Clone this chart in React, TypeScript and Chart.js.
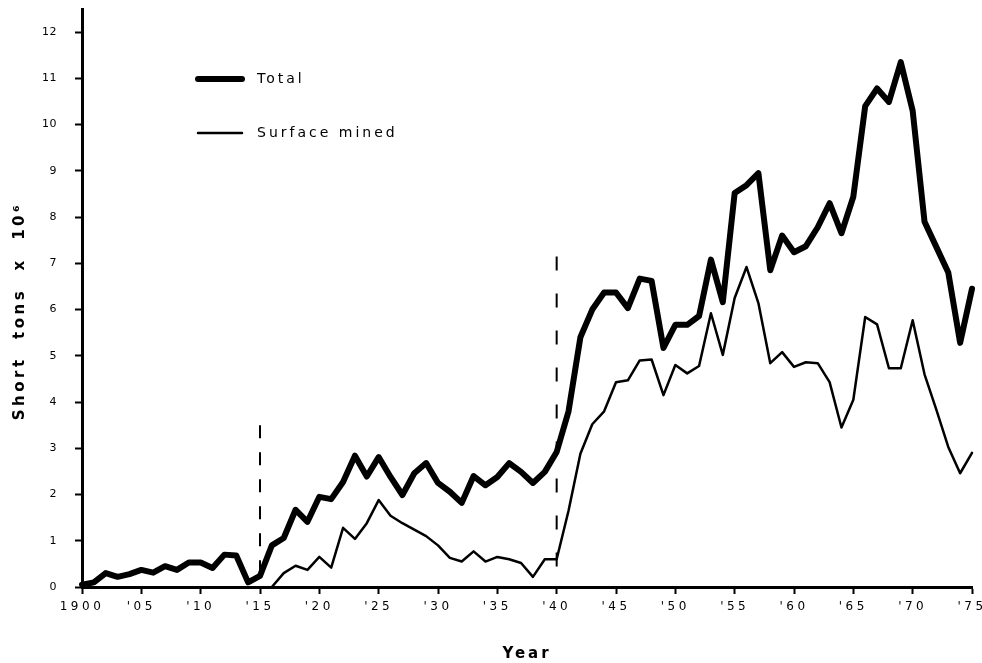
import React, { useEffect, useRef } from 'react';
import { Chart, registerables } from 'chart.js';

Chart.register(...registerables);

// ---------- data ----------
const years = [
  1900, 1901, 1902, 1903, 1904, 1905, 1906, 1907, 1908, 1909,
  1910, 1911, 1912, 1913, 1914, 1915, 1916, 1917, 1918, 1919,
  1920, 1921, 1922, 1923, 1924, 1925, 1926, 1927, 1928, 1929,
  1930, 1931, 1932, 1933, 1934, 1935, 1936, 1937, 1938, 1939,
  1940, 1941, 1942, 1943, 1944, 1945, 1946, 1947, 1948, 1949,
  1950, 1951, 1952, 1953, 1954, 1955, 1956, 1957, 1958, 1959,
  1960, 1961, 1962, 1963, 1964, 1965, 1966, 1967, 1968, 1969,
  1970, 1971, 1972, 1973, 1974, 1975,
];

const totalTons = [
  0.05, 0.1, 0.3, 0.22, 0.28, 0.37, 0.31, 0.45, 0.37, 0.53,
  0.53, 0.41, 0.7, 0.68, 0.1, 0.24, 0.9, 1.06, 1.67, 1.41,
  1.95, 1.9, 2.27, 2.84, 2.39, 2.81, 2.38, 1.99, 2.46, 2.68,
  2.25, 2.06, 1.82, 2.4, 2.2, 2.38, 2.68, 2.49, 2.25, 2.49,
  2.92, 3.8, 5.4, 6.0, 6.37, 6.37, 6.03, 6.67, 6.62, 5.17,
  5.67, 5.67, 5.86, 7.08, 6.16, 8.52, 8.69, 8.95, 6.85, 7.6,
  7.24, 7.37, 7.78, 8.3, 7.65, 8.44, 10.4, 10.78, 10.49, 11.35,
  10.3, 7.9, 7.35, 6.8, 5.28, 6.45,
];

const surfaceMinedTons = [
  null, null, null, null, null, null, null, null, null, null,
  null, null, null, null, null, null, 0.0, 0.3, 0.46, 0.37,
  0.65, 0.42, 1.28, 1.04, 1.38, 1.88, 1.54, 1.38, 1.24, 1.1,
  0.9, 0.63, 0.55, 0.77, 0.55, 0.65, 0.6, 0.52, 0.22, 0.6,
  0.6, 1.65, 2.88, 3.52, 3.8, 4.43, 4.47, 4.9, 4.92, 4.15,
  4.8, 4.62, 4.78, 5.92, 5.02, 6.25, 6.92, 6.14, 4.84, 5.08,
  4.76, 4.86, 4.84, 4.43, 3.45, 4.05, 5.84, 5.68, 4.73, 4.73,
  5.77, 4.6, 3.83, 3.03, 2.46, 2.9,
];

const seriesLabels = ['Total', 'Surface mined'];

const markerYears = [1915, 1940];
const markerTops = [3.5, 7.15];

const xTickValues = [1900, 1905, 1910, 1915, 1920, 1925, 1930, 1935, 1940, 1945, 1950, 1955, 1960, 1965, 1970, 1975];
const xTickLabels = ['1900', "'05", "'10", "'15", "'20", "'25", "'30", "'35", "'40", "'45", "'50", "'55", "'60", "'65", "'70", "'75"];

const yTitle = 'Short  tons  x  10⁶\u00a0\u00a0\u00a0';
const xTitle = 'Year';

// ---------- plugins ----------
const spacingPlugin = {
  id: 'letterSpacingPlugin',
  afterUpdate(chart: any) {
    const wrap = (scale: any, method: string, spacing: string) => {
      if (!scale) return;
      const key = '__wrapped_' + method;
      if (scale[key]) return;
      const orig = scale[method];
      scale[key] = true;
      scale[method] = function (...args: any[]) {
        const ctx = this.ctx;
        const prev = ctx.letterSpacing;
        ctx.letterSpacing = spacing;
        orig.apply(this, args);
        ctx.letterSpacing = prev || '0px';
      };
    };
    wrap(chart.scales.x, 'drawLabels', '3.5px');
    wrap(chart.scales.x, 'drawTitle', '3px');
    wrap(chart.scales.y, 'drawLabels', '0.5px');
    wrap(chart.scales.y, 'drawTitle', '3.5px');
  },
};

const legendPlugin = {
  id: 'customLegend',
  afterDraw(chart: any) {
    const { ctx, chartArea } = chart;
    const items = [
      { label: seriesLabels[0], width: 6 },
      { label: seriesLabels[1], width: 2.5 },
    ];
    ctx.save();
    items.forEach((it, i) => {
      const y = chartArea.top + 70 + i * 54;
      ctx.beginPath();
      ctx.strokeStyle = '#000';
      ctx.lineWidth = it.width;
      ctx.lineCap = 'round';
      ctx.moveTo(chartArea.left + 116, y);
      ctx.lineTo(chartArea.left + 160, y);
      ctx.stroke();
      ctx.fillStyle = '#000';
      ctx.font = '14px "DejaVu Sans"';
      ctx.textBaseline = 'middle';
      ctx.textAlign = 'left';
      ctx.letterSpacing = '3px';
      ctx.fillText(it.label, chartArea.left + 175, y);
    });
    ctx.restore();
  },
};

export default function App() {
  const canvasRef = useRef<HTMLCanvasElement | null>(null);

  useEffect(() => {
    if (!canvasRef.current) return;

    const markerSets = markerYears.map((yr, i) => ({
      label: 'marker' + i,
      data: [
        { x: yr, y: markerTops[i] },
        { x: yr, y: 0 },
      ],
      borderColor: '#000',
      borderWidth: 2,
      borderDash: i === 0 ? [13, 14] : [14, 23],
      pointRadius: 0,
      fill: false,
      clip: false,
    }));

    const chart = new Chart(canvasRef.current, {
      type: 'line',
      data: {
        datasets: [
          ...markerSets,
          {
            label: seriesLabels[1],
            data: years.map((yr, i) => ({ x: yr, y: surfaceMinedTons[i] })),
            borderColor: '#000',
            borderWidth: 2.5,
            pointRadius: 0,
            tension: 0,
            spanGaps: false,
            borderJoinStyle: 'round',
            borderCapStyle: 'round',
            clip: false,
          },
          {
            label: seriesLabels[0],
            data: years.map((yr, i) => ({ x: yr, y: totalTons[i] })),
            borderColor: '#000',
            borderWidth: 6,
            pointRadius: 0,
            tension: 0,
            borderJoinStyle: 'round',
            borderCapStyle: 'round',
            clip: false,
          },
        ] as any,
      },
      options: {
        animation: false,
        responsive: true,
        maintainAspectRatio: false,
        layout: { padding: { top: 9, right: 10, left: 0, bottom: 0 } },
        plugins: {
          legend: { display: false },
          tooltip: { enabled: false },
        },
        scales: {
          x: {
            type: 'linear',
            min: 1900,
            max: 1975,
            afterBuildTicks: (s: any) => {
              s.ticks = xTickValues.map((v) => ({ value: v }));
            },
            afterFit: (s: any) => {
              s.height = 76;
              s.paddingLeft = 0;
              s.paddingRight = 0;
            },
            ticks: {
              autoSkip: false,
              maxRotation: 0,
              minRotation: 0,
              padding: 6,
              color: '#000',
              font: { family: 'DejaVu Sans', size: 12 },
              callback: (v: any) => {
                const i = xTickValues.indexOf(Number(v));
                return i >= 0 ? xTickLabels[i] : '';
              },
            },
            grid: {
              drawOnChartArea: false,
              drawTicks: true,
              tickLength: 7,
              tickWidth: 2,
              tickColor: '#000',
            },
            border: { display: true, width: 3, color: '#000' },
            title: {
              display: true,
              text: xTitle,
              color: '#000',
              font: { family: 'DejaVu Sans', size: 15, weight: 'bold' },
              padding: { top: 0, bottom: 0 },
            },
          },
          y: {
            type: 'linear',
            min: 0,
            max: 12.5,
            afterFit: (s: any) => {
              s.width = 82;
              s.paddingTop = 0;
              s.paddingBottom = 0;
            },
            ticks: {
              stepSize: 1,
              includeBounds: false,
              padding: 18,
              color: '#000',
              font: { family: 'DejaVu Sans', size: 11 },
            },
            grid: {
              drawOnChartArea: false,
              drawTicks: true,
              tickLength: 7,
              tickWidth: 2,
              tickColor: '#000',
            },
            border: { display: true, width: 3, color: '#000' },
            title: {
              display: true,
              text: yTitle,
              color: '#000',
              font: { family: 'DejaVu Sans', size: 15, weight: 'bold' },
              padding: { top: 11, bottom: 0 },
            },
          },
        },
      } as any,
      plugins: [spacingPlugin, legendPlugin],
    });

    return () => chart.destroy();
  }, []);

  return (
    <div
      style={{
        position: 'fixed',
        left: 0,
        top: 0,
        width: 982,
        height: 663,
        background: '#fff',
      }}
    >
      <canvas ref={canvasRef} />
    </div>
  );
}
